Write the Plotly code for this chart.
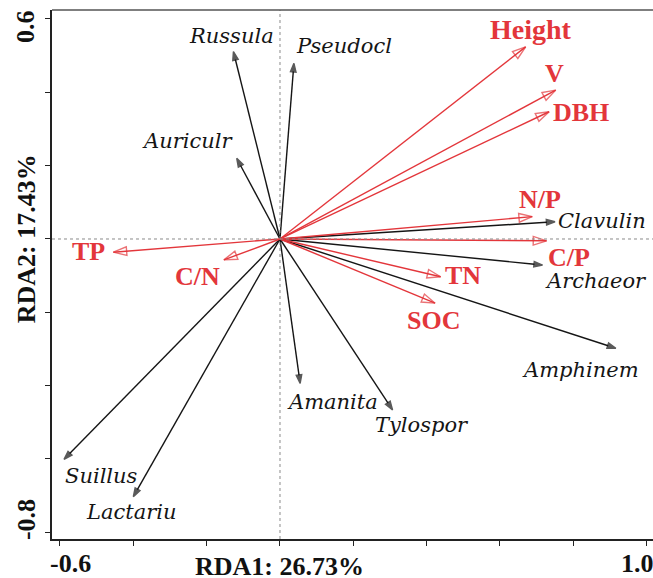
import plotly.graph_objects as go

# ---- data ----
species = ["Russula", "Pseudocl", "Auriculr", "Clavulin", "Archaeor",
           "Amphinem", "Tylospor", "Amanita", "Suillus", "Lactariu"]
sp_x = [-0.127, 0.038, -0.118, 0.750, 0.716, 0.916, 0.307, 0.055, -0.589, -0.400]
sp_y = [0.511, 0.479, 0.220, 0.047, -0.071, -0.298, -0.466, -0.394, -0.601, -0.703]
sp_lab_x = [-0.131, 0.175, -0.251, 0.877, 0.862, 0.820, 0.386, 0.144, -0.488, -0.405]
sp_lab_y = [0.554, 0.526, 0.267, 0.049, -0.115, -0.357, -0.508, -0.445, -0.646, -0.745]

env = ["Height", "V", "DBH", "N/P", "C/P", "TN", "SOC", "TP", "C/N"]
env_x = [0.670, 0.752, 0.734, 0.688, 0.727, 0.438, 0.423, -0.4545, -0.153]
env_y = [0.524, 0.406, 0.347, 0.061, -0.005, -0.103, -0.175, -0.036, -0.057]
env_lab_x = [0.685, 0.750, 0.820, 0.708, 0.788, 0.498, 0.419, -0.521, -0.224]
env_lab_y = [0.570, 0.452, 0.345, 0.109, -0.050, -0.100, -0.223, -0.033, -0.101]
env_lab_size = [28, 26, 26, 26, 26, 26, 26, 26, 26]

x_ticks = [-0.6, -0.4, -0.2, 0.0, 0.2, 0.4, 0.6, 0.8, 1.0]
y_ticks = [-0.8, -0.6, -0.4, -0.2, 0.0, 0.2, 0.4, 0.6]
x_title = "RDA1: 26.73%"
y_title = "RDA2: 17.43%"

RED = "#E3363B"
BLACK = "#151515"
FONT = "Liberation Serif, Times New Roman, serif"
ITALIC_FONT = "DejaVu Serif"

fig = go.Figure()

for xs, ys, col, sym, sz in [(sp_x, sp_y, BLACK, "arrow", 9),
                             (env_x, env_y, RED, "arrow-open", 14)]:
    for x, y in zip(xs, ys):
        fig.add_trace(go.Scatter(
            x=[0, x], y=[0, y], mode="lines+markers",
            line=dict(color=col, width=1.4),
            marker=dict(symbol=sym, size=[0, sz], color=col, angleref="previous",
                        line=dict(color=col, width=1.4)),
            hoverinfo="skip", showlegend=False))

annotations = []
for name, x, y in zip(species, sp_lab_x, sp_lab_y):
    annotations.append(dict(x=x, y=y, xref="x", yref="y", text=f"<i>{name}</i>",
                            showarrow=False, xanchor="center", yanchor="middle",
                            font=dict(family=ITALIC_FONT, size=21, color=BLACK)))
for name, x, y, s in zip(env, env_lab_x, env_lab_y, env_lab_size):
    annotations.append(dict(x=x, y=y, xref="x", yref="y", text=f"<b>{name}</b>",
                            showarrow=False, xanchor="center", yanchor="middle",
                            font=dict(family=FONT, size=s, color=RED)))

bold = dict(family=FONT, size=26, color="#111111")
common = dict(showarrow=False, xanchor="center", yanchor="middle", font=bold)
annotations += [
    dict(x=-0.570, y=-0.047, xref="x", yref="paper", text=f"<b>{x_ticks[0]:.1f}</b>", **common),
    dict(x=0.976, y=-0.047, xref="x", yref="paper", text=f"<b>{x_ticks[-1]:.1f}</b>", **common),
    dict(x=0.0, y=-0.052, xref="x", yref="paper", text=f"<b>{x_title}</b>", **common),
    dict(x=-0.0433, y=0.581, xref="paper", yref="y", text=f"<b>{y_ticks[-1]:.1f}</b>",
         textangle=-90, **common),
    dict(x=-0.0433, y=-0.764, xref="paper", yref="y", text=f"<b>{y_ticks[0]:.1f}</b>",
         textangle=-90, **common),
    dict(x=-0.041, y=0.0, xref="paper", yref="y", text=f"<b>{y_title}</b>",
         textangle=-90, **common),
]

shapes = [
    dict(type="line", xref="x", yref="paper", x0=0, x1=0, y0=0, y1=1,
         line=dict(color="#8a8a8a", width=1, dash="dot")),
    dict(type="line", xref="paper", yref="y", x0=0, x1=1, y0=0, y1=0,
         line=dict(color="#8a8a8a", width=1, dash="dot")),
    dict(type="line", xref="paper", yref="paper", x0=0, x1=1, y0=1, y1=1,
         line=dict(color="#555555", width=1.5)),
]

axis_common = dict(showgrid=False, zeroline=False, showline=True, linecolor="#222222",
                   linewidth=1.5, ticks="outside", ticklen=5, tickwidth=1.3,
                   tickcolor="#222222", showticklabels=False)

fig.update_layout(
    width=653, height=578,
    margin=dict(l=52, r=0, t=10, b=39),
    paper_bgcolor="white", plot_bgcolor="white",
    xaxis=dict(range=[-0.6218, 1.0173], tickvals=x_ticks, **axis_common),
    yaxis=dict(range=[-0.8182, 0.6245], tickvals=y_ticks, **axis_common),
    annotations=annotations, shapes=shapes,
)

fig.write_html("out.html")
